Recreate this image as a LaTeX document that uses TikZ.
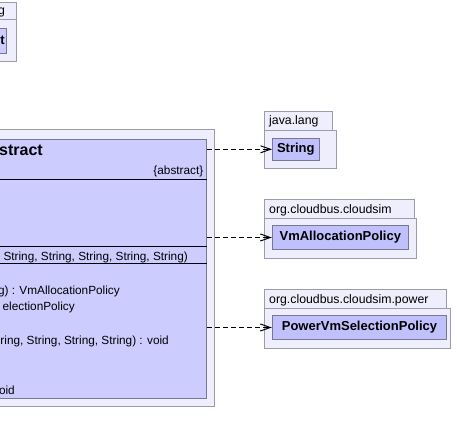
\documentclass[tikz,border=0pt]{standalone}
\usepackage{fontspec}
\setmainfont{Liberation Sans}
\usetikzlibrary{arrows.meta}
\definecolor{pkgfill}{RGB}{238,238,252}
\definecolor{pkgdraw}{RGB}{155,155,172}
\definecolor{mainfill}{RGB}{204,204,255}
\definecolor{smallfill}{RGB}{192,192,252}
\definecolor{clsdraw}{RGB}{120,120,150}
\tikzset{
  pkg/.style={draw=pkgdraw, fill=pkgfill, line width=1pt},
  clsbox/.style={draw=clsdraw, fill=smallfill, line width=1pt, inner sep=0pt, font=\fontsize{13}{15}\selectfont\bfseries},
  mainbox/.style={draw=clsdraw, fill=mainfill, line width=1pt, inner sep=0pt},
  memb/.style={inner sep=0pt, font=\fontsize{11.8}{14}\selectfont},
  pkglabel/.style={inner sep=0pt, anchor=base west, font=\fontsize{12.3}{14}\selectfont},
  sepline/.style={draw=black, line width=1pt},
  dep/.style={draw=black, line width=1pt, dash pattern=on 5pt off 3pt, -{Straight Barb[length=10pt,width=7pt]}}
}
\begin{document}
\begin{tikzpicture}[x=1pt,y=-1pt]
\useasboundingbox[fill=white] (0,0) rectangle (457,444);
\clip (0,0) rectangle (457,444);

% top-left package (cut)
\draw[pkg] (-60,2.7) rectangle (16.3,20);
\draw[pkg] (-60,20) rectangle (16.3,61);
\node[pkglabel, anchor=base east] (tlg) at (5.2,15) {g};
\node[clsbox, fill=mainfill, minimum width=60pt, minimum height=24.4pt, anchor=north east] (tlcls) at (6.7,28.3) {};
\node[inner sep=0pt, anchor=base east, font=\fontsize{13}{15}\selectfont\bfseries] (tlt) at (5,45) {t};

% main package and class
\draw[pkg] (-120,129.2) rectangle (214.3,406.5);
\node[mainbox, minimum width=330pt, minimum height=258.7pt, anchor=north east] (main) at (206.7,139.3) {};
\draw[sepline] (-120,179) -- (206.7,179);
\draw[sepline] (-120,246.7) -- (206.7,246.7);
\draw[sepline] (-120,263.3) -- (206.7,263.3);
\node[inner sep=0pt, anchor=base east, font=\fontsize{16}{18}\selectfont\bfseries] (title) at (43,155) {stract};
\node[memb, anchor=base east] (abs) at (203.5,174) {\{abstract\}};
\node[memb, anchor=base east] (m1) at (188,260) {String, String, String, String, String)};
\node[memb, anchor=base east] (m2) at (120,294.3) {g) : VmAllocationPolicy};
\node[memb, anchor=base east] (m3) at (75,310.7) {electionPolicy};
\node[memb, anchor=base east] (m4) at (169,344.3) {ring, String, String, String) : void};
\node[memb, anchor=base east] (m5) at (15,394) {oid};

% java.lang
\draw[pkg] (264.5,111.7) rectangle (332.7,130);
\draw[pkg] (264.5,130) rectangle (336.7,168.5);
\node[pkglabel] (pl1) at (269,124.3) {java.lang};
\node[clsbox, minimum width=46.5pt, minimum height=22.5pt] (string) at (295.8,149.3) {String};

% org.cloudbus.cloudsim
\draw[pkg] (264.5,199) rectangle (414.2,218.3);
\draw[pkg] (264.5,218.3) rectangle (416.7,258.3);
\node[pkglabel] (pl2) at (269,213.3) {org.cloudbus.cloudsim};
\node[clsbox, minimum width=136pt, minimum height=23.6pt] (vmalloc) at (340.3,237.5) {VmAllocationPolicy};

% org.cloudbus.cloudsim.power
\draw[pkg] (264.5,289) rectangle (446,308.3);
\draw[pkg] (264.5,308.3) rectangle (450,348.3);
\node[pkglabel] (pl3) at (269,303.3) {org.cloudbus.cloudsim.power};
\node[clsbox, minimum width=174.4pt, minimum height=23.6pt] (powersel) at (359.5,327.5) {PowerVmSelectionPolicy};

% dependencies
\draw[dep] (main.east |- string.west) -- (string.west);
\draw[dep] (main.east |- vmalloc.west) -- (vmalloc.west);
\draw[dep] (main.east |- powersel.west) -- (powersel.west);
\end{tikzpicture}
\end{document}
